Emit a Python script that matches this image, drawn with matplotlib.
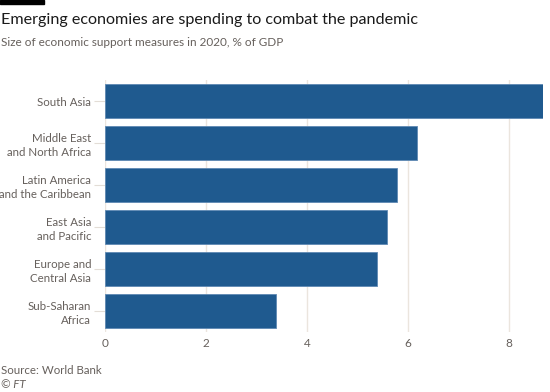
import matplotlib
matplotlib.use("Agg")
import matplotlib.pyplot as plt

categories = ["South Asia", "Middle East\nand North Africa", "Latin America\nand the Caribbean",
              "East Asia\nand Pacific", "Europe and\nCentral Asia", "Sub-Saharan\nAfrica"]
values = [8.67, 6.18, 5.78, 5.58, 5.39, 3.39]
xticks = [0, 2, 4, 6, 8]

plt.rcParams['font.family'] = ['Lato', 'DejaVu Sans']

fig = plt.figure(figsize=(5.5, 3.92), dpi=100)
fig.patch.set_facecolor("white")
ax = fig.add_axes([105/550, 1-332/392, (543-105)/550, (332-80)/392])

pos = list(range(len(categories)))
ax.barh(pos, values, height=0.79, color="#1f5a8f", edgecolor="#5f89b3", linewidth=0.6, zorder=3)
ax.set_xlim(0, 8.67)
ax.set_ylim(5.5, -0.5)
ax.set_xticks(xticks)
ax.set_xticklabels([str(t) for t in xticks])
ax.set_yticks(pos)
ax.set_yticklabels(categories, ha="right", linespacing=1.3)
ax.grid(axis="x", color="#ebe5de", linewidth=1, zorder=0)
for s in ax.spines.values():
    s.set_visible(False)
ax.tick_params(axis="x", length=0, labelsize=8.5, colors="#66605c", pad=4)
ax.tick_params(axis="y", length=8, width=0.8, color="#e3ddd6", labelsize=8.3, labelcolor="#66605c", pad=2)

fig.add_artist(plt.Rectangle((0, 1-4/392), 44/550, 4/392, transform=fig.transFigure, color="black"))
fig.text(1/550, 1-20/392, "Emerging economies are spending to combat the pandemic", fontsize=11.6,
         color="#1a1a1a", va="center", ha="left")
fig.text(1/550, 1-43/392, "Size of economic support measures in 2020, % of GDP", fontsize=8.5,
         color="#66605c", va="center", ha="left")
fig.text(1/550, 1-370/392, "Source: World Bank", fontsize=8.3, color="#66605c", va="center", ha="left")
fig.text(1/550, 1-384/392, "© FT", fontsize=8.3, color="#66605c", va="center", ha="left", style="italic")

fig.savefig("out.png", dpi=100)
